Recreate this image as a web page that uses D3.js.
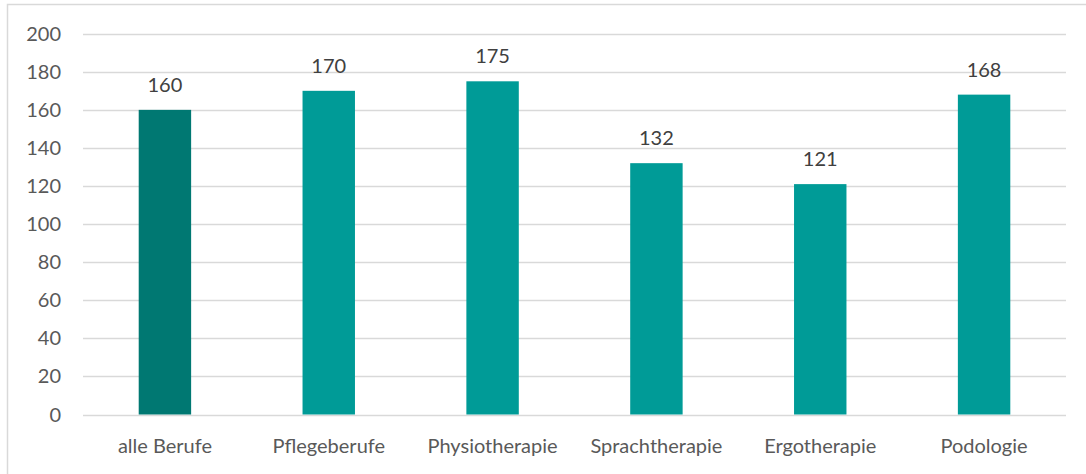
<!DOCTYPE html>
<html>
<head>
<meta charset="utf-8">
<script src="https://cdn.jsdelivr.net/npm/d3@7"></script>
<style>
  body { margin:0; background:#fff; }
  text { font-family: Lato, "Open Sans", sans-serif; }
</style>
</head>
<body>
<div id="chart-area"></div>
<script>

var categories = ["alle Berufe","Pflegeberufe","Physiotherapie","Sprachtherapie","Ergotherapie","Podologie"];
var values = [160,170,175,132,121,168];
var yTicks = [0,20,40,60,80,100,120,140,160,180,200];

var total_width = 1086;
var total_height = 474;

var svg = d3.select('#chart-area').append('svg')
            .attr("width",total_width)
            .attr("height",total_height);

// outer frame
svg.append("rect")
   .attr("x",7.5).attr("y",4.5)
   .attr("width",1090).attr("height",480)
   .attr("fill","none")
   .attr("stroke","#d9d9d9")
   .attr("stroke-width",1.5);

var x = d3.scaleBand().domain(categories)
          .range([83,1066])
          .paddingInner(0.68).paddingOuter(0.34);
var y = d3.scaleLinear().domain([0,200]).range([414.5,33.7]);

// gridlines
svg.append("g").selectAll("line").data(yTicks).enter().append("line")
   .attr("x1",83).attr("x2",1066)
   .attr("y1",(d) => Math.round(y(d))+0.5)
   .attr("y2",(d) => Math.round(y(d))+0.5)
   .attr("stroke","#d9d9d9")
   .attr("stroke-width",1.3);

// y tick labels
svg.append("g").selectAll("text").data(yTicks).enter().append("text")
   .attr("x",61)
   .attr("y",(d) => y(d)+7)
   .attr("text-anchor","end")
   .attr("font-size","20px")
   .attr("fill","#595959")
   .text((d) => d);

// bars
svg.append("g").selectAll("rect").data(values).enter().append("rect")
   .attr("x",(d,i) => x(categories[i]))
   .attr("width",x.bandwidth())
   .attr("y",(d) => y(d))
   .attr("height",(d) => y(0)-y(d))
   .attr("fill",(d,i) => i == 0 ? '#007872' : '#009b97');

// data labels
svg.append("g").selectAll("text").data(values).enter().append("text")
   .attr("x",(d,i) => x(categories[i]) + x.bandwidth()/2)
   .attr("y",(d) => y(d)-18)
   .attr("text-anchor","middle")
   .attr("font-size","20px")
   .attr("fill","#404040")
   .text((d) => d);

// category labels
svg.append("g").selectAll("text").data(categories).enter().append("text")
   .attr("x",(d) => x(d) + x.bandwidth()/2)
   .attr("y",453)
   .attr("text-anchor","middle")
   .attr("font-size","20px")
   .attr("fill","#595959")
   .text((d) => d);

</script>
</body>
</html>
